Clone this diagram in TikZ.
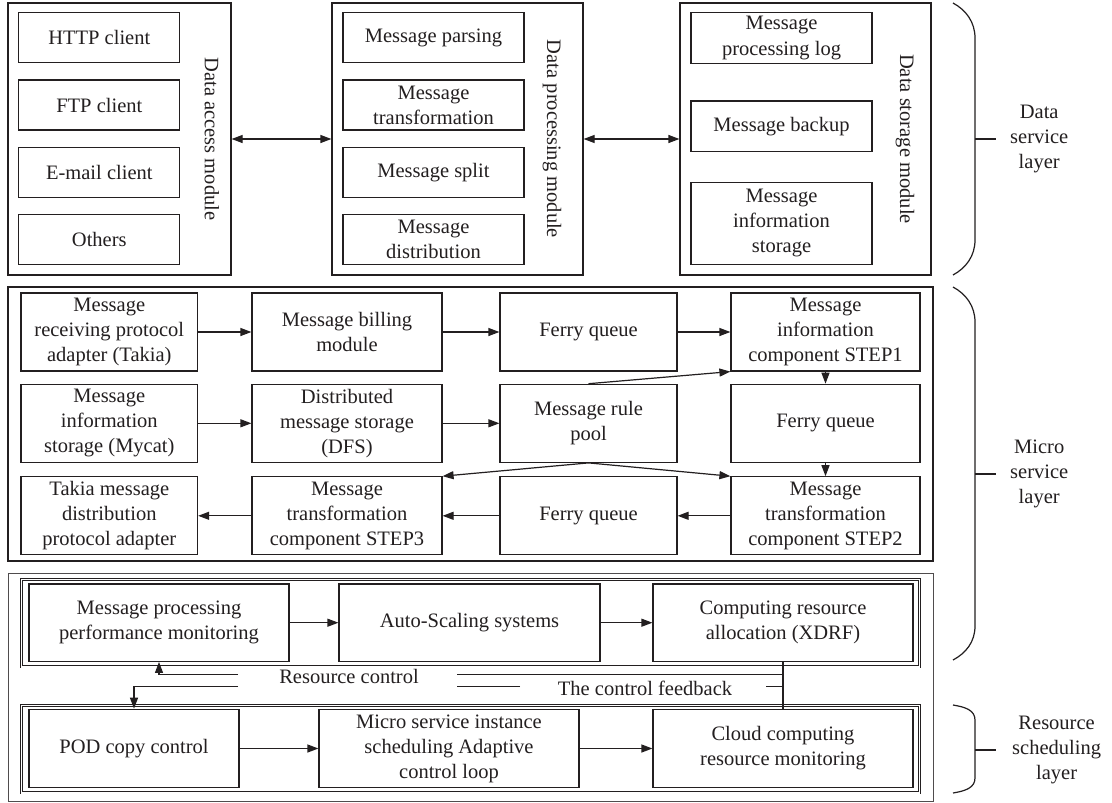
\documentclass[tikz,border=0pt]{standalone}
\usepackage{fontspec}
\setmainfont{Liberation Serif}
\usetikzlibrary{arrows.meta}
\definecolor{ink}{HTML}{231F20}
\begin{document}
\begin{tikzpicture}[x=1pt,y=-1pt,
  font=\fontsize{20.5}{25}\selectfont,
  box/.style={draw=ink, line width=1.2pt, align=center, inner sep=1pt, text=ink},
  ln/.style={draw=ink, line width=1.2pt},
  arr/.style={draw=ink, line width=1.2pt, -{Triangle[length=11pt,width=8pt]}},
  darr/.style={draw=ink, line width=1.2pt, {Triangle[length=11pt,width=8pt]}-{Triangle[length=11pt,width=8pt]}},
  grp/.style={draw=ink, line width=0.8pt, double=white, double distance=1.5pt},
  vlab/.style={rotate=-90, text=ink, inner sep=0pt},
  lab/.style={text=ink, align=center, inner sep=0pt},
  brc/.style={draw=ink, line width=1.2pt}
]
\useasboundingbox (0,0) rectangle (1112,803);
\fill[white] (0,0) rectangle (1112,803);

% ---------------- Data service layer ----------------
\node[box, minimum width=223pt, minimum height=272pt] (acc) at (119.5,139) {};
\node[box, minimum width=161pt, minimum height=50pt] (http) at (99.3,37.7) {HTTP client};
\node[box, minimum width=161pt, minimum height=50pt] (ftp) at (99.3,105) {FTP client};
\node[box, minimum width=161pt, minimum height=50pt] (mail) at (99.3,172.7) {E-mail client};
\node[box, minimum width=161pt, minimum height=50pt] (oth) at (99.3,239.3) {Others};
\node[vlab] (acclab) at (212,139) {Data access module};

\node[box, minimum width=251pt, minimum height=272pt] (proc) at (457.5,139) {};
\node[box, minimum width=181pt, minimum height=50pt] (pars) at (433.5,37.7) {Message parsing};
\node[box, minimum width=181pt, minimum height=50pt] (trans) at (433.5,105) {Message\\transformation};
\node[box, minimum width=181pt, minimum height=50pt] (split) at (433.5,172.7) {Message split};
\node[box, minimum width=181pt, minimum height=50pt] (dist) at (433.5,239.3) {Message\\distribution};
\node[vlab] (proclab) at (552,139) {Data processing module};

\node[box, minimum width=251pt, minimum height=272pt] (stor) at (805.5,139) {};
\node[box, minimum width=181pt, minimum height=50.6pt] (log) at (781.5,38) {Message\\processing log};
\node[box, minimum width=181pt, minimum height=50.6pt] (bak) at (781.5,126.3) {Message backup};
\node[box, minimum width=181pt, minimum height=82pt] (info) at (781.5,223.3) {Message\\information\\storage};
\node[vlab] (storlab) at (905,139) {Data storage module};

\draw[darr] (acc.east) -- (proc.west);
\draw[darr] (proc.east) -- (stor.west);

\draw[brc] (953,3) .. controls (966,10) and (975,22) .. (975,38) -- (975,240) .. controls (975,256) and (966,268) .. (953,275);
\draw[brc] (975,139) -- (996,139);
\node[lab, anchor=west] (dsl) at (1010,139) {Data\\service\\layer};

% ---------------- Micro service layer ----------------
\node[box, minimum width=925pt, minimum height=274pt] (micro) at (470.5,424) {};

\node[box, minimum width=176.5pt, minimum height=78pt] (m11) at (109.3,332) {Message\\receiving protocol\\adapter (Takia)};
\node[box, minimum width=190pt, minimum height=78pt] (m12) at (347,332) {Message billing\\module};
\node[box, minimum width=177pt, minimum height=78pt] (m13) at (588.5,332) {Ferry queue};
\node[box, minimum width=189pt, minimum height=78pt] (m14) at (825.5,332) {Message\\information\\component STEP1};

\node[box, minimum width=176.5pt, minimum height=78pt] (m21) at (109.3,423.3) {Message\\information\\storage (Mycat)};
\node[box, minimum width=190pt, minimum height=78pt] (m22) at (347,423.3) {Distributed\\message storage\\(DFS)};
\node[box, minimum width=177pt, minimum height=78pt] (m23) at (588.5,423.3) {Message rule\\pool};
\node[box, minimum width=189pt, minimum height=78pt] (m24) at (825.5,423.3) {Ferry queue};

\node[box, minimum width=176.5pt, minimum height=78pt] (m31) at (109.3,515.8) {Takia message\\distribution\\protocol adapter};
\node[box, minimum width=190pt, minimum height=78pt] (m32) at (347,515.8) {Message\\transformation\\component STEP3};
\node[box, minimum width=177pt, minimum height=78pt] (m33) at (588.5,515.8) {Ferry queue};
\node[box, minimum width=189pt, minimum height=78pt] (m34) at (825.5,515.8) {Message\\transformation\\component STEP2};

\draw[arr] (m11) -- (m12);
\draw[arr] (m12) -- (m13);
\draw[arr] (m13) -- (m14);
\draw[arr] (m21) -- (m22);
\draw[arr] (m22) -- (m23);
\draw[arr] (m23.north) -- (m14.south west);
\draw[arr] (m14) -- (m24);
\draw[arr] (m24) -- (m34);
\draw[arr] (m23.south) -- (m32.north east);
\draw[arr] (m23.south) -- (m34.north west);
\draw[arr] (m34) -- (m33);
\draw[arr] (m33) -- (m32);
\draw[arr] (m32) -- (m31);

\draw[brc] (953,287) .. controls (966,294) and (975,306) .. (975,322) -- (975,626) .. controls (975,642) and (966,653) .. (953,660);
\draw[brc] (975,474) -- (996,474);
\node[lab, anchor=west] (msl) at (1010,474) {Micro\\service\\layer};

% ---------------- Resource scheduling ----------------
\node[draw=ink!80, line width=0.9pt, minimum width=925pt, minimum height=228.5pt] (res) at (470.5,687.5) {};
\node[grp, minimum width=898pt, minimum height=87.5pt] (g1) at (470.5,623) {};
\node[grp, minimum width=898pt, minimum height=87.5pt] (g2) at (470.5,749) {};

\node[box, minimum width=260pt, minimum height=77.3pt] (mon) at (159,622.7) {Message processing\\performance monitoring};
\node[box, minimum width=261pt, minimum height=77.3pt] (auto) at (469.5,622.7) {Auto-Scaling systems};
\node[box, minimum width=260pt, minimum height=77.3pt] (comp) at (783,622.7) {Computing resource\\allocation (XDRF)};

\node[box, minimum width=210pt, minimum height=78.4pt] (pod) at (134,748.5) {POD copy control};
\node[box, minimum width=260pt, minimum height=78.4pt] (inst) at (449,748.5) {Micro service instance\\scheduling Adaptive\\control loop};
\node[box, minimum width=260pt, minimum height=78.4pt] (cloud) at (783,748.5) {Cloud computing\\resource monitoring};

\draw[arr] (mon) -- (auto);
\draw[arr] (auto) -- (comp);
\draw[arr] (pod) -- (inst);
\draw[arr] (inst) -- (cloud);

\coordinate (jr) at (783,674.3);
\coordinate (jf) at (783,686.3);
\draw[ln] (comp.south) -- (cloud.north);
\draw[ln] (jr) -- (457,674.3);
\draw[arr] (238,674.3) -| (mon.south);
\draw[ln] (jf) -- (766,686.3);
\draw[ln] (520,686.3) -- (457,686.3);
\draw[arr] (238,686.3) -| (pod.north);
\node[lab] (rclab) at (349,676) {Resource control};
\node[lab] (fblab) at (645,688) {The control feedback};

\draw[brc] (953,705) .. controls (965,707) and (975,710) .. (975,720) -- (975,778) .. controls (975,788) and (965,791) .. (953,793);
\draw[brc] (975,750) -- (996,750);
\node[lab, anchor=west] (rsl) at (1012,750) {Resource\\scheduling\\layer};
\end{tikzpicture}
\end{document}
